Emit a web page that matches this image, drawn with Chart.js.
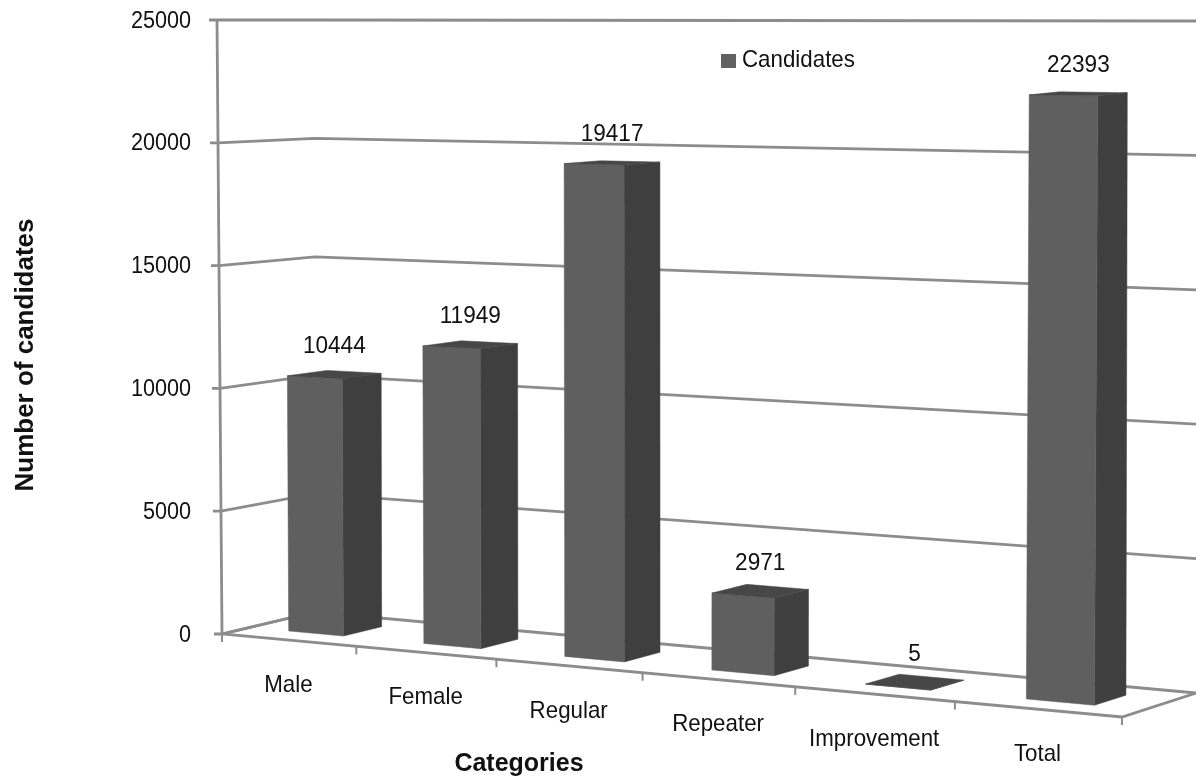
<!DOCTYPE html>
<html>
<head>
<meta charset="utf-8">
<title>Candidates</title>
<script src="https://cdn.jsdelivr.net/npm/chart.js@4/dist/chart.umd.js"></script>
<style>
  body { margin: 0; background: #fff; }
  #box { width: 1196px; height: 779px; }
</style>
</head>
<body>
<div id="box"><canvas id="chart" width="1196" height="779"></canvas></div>
<script>
const categories = ["Male", "Female", "Regular", "Repeater", "Improvement", "Total"]
const candidates = [10444, 11949, 19417, 2971, 5, 22393]
const seriesName = "Candidates"
const yMax = 25000
const yStep = 5000
const xTitle = "Categories"
const yTitle = "Number of candidates"

const FONT = '"Liberation Sans", Arial, sans-serif'
const GRID = "#8c8c8c"
const FRONT = "#5f5f5f"
const SIDE = "#3f3f3f"
const TOP = "#474747"
const TEXT = "#111"
const NARROW = 0.9
const LINE = 2.8

// corners of the 3D box on screen: [front-left, front-right, back-left, back-right]
const FLOOR = [[222, 634], [1122, 717], [315, 612], [1196, 693]]
const CEIL = [[217, 20], [1128, 27], [315, 20], [1196, 21]]
const WARP = 1.14
const BAR_FRONT = 0.3
const BAR_BACK = 0.72

function lerp(a, b, t) {
  return a + (b - a) * t
}

function corner(c, t, d) {
  return [0, 1].map((i) => lerp(lerp(c[0][i], c[1][i], t), lerp(c[2][i], c[3][i], t), d))
}

/**
 * u: 0-1 along the categories, d: 0-1 into the depth, v: 0-1 up the value axis
 */
function project(u, d, v) {
  const t = u / (u + WARP * (1 - u))
  const a = corner(FLOOR, t, d)
  const b = corner(CEIL, t, d)
  return [lerp(a[0], b[0], v), lerp(a[1], b[1], v)]
}

function stroke(ctx, points, color, width) {
  ctx.strokeStyle = color
  ctx.lineWidth = width
  ctx.beginPath()
  points.forEach((p, i) => (i ? ctx.lineTo(p[0], p[1]) : ctx.moveTo(p[0], p[1])))
  ctx.stroke()
}

function fill(ctx, points, color) {
  ctx.fillStyle = color
  ctx.strokeStyle = color
  ctx.lineWidth = 0.5
  ctx.beginPath()
  points.forEach((p, i) => (i ? ctx.lineTo(p[0], p[1]) : ctx.moveTo(p[0], p[1])))
  ctx.closePath()
  ctx.fill()
  ctx.stroke()
}

// the reference text is tall and slightly condensed, so it gets squeezed in x
function label(ctx, text, x, y, font, align = "center", squeeze = NARROW) {
  ctx.save()
  ctx.translate(x, y)
  ctx.scale(squeeze, 1)
  ctx.font = font
  ctx.fillStyle = TEXT
  ctx.textAlign = align
  ctx.textBaseline = "middle"
  ctx.fillText(text, 0, 0)
  ctx.restore()
}

function valueToV(chart, value) {
  const { chartArea, scales } = chart
  return (chartArea.bottom - scales.y.getPixelForValue(value)) / chartArea.height
}

/**
 * Walls, floor and tick marks, placed from the chart's own scales
 */
function drawBox(chart) {
  const { ctx, scales } = chart

  scales.y.ticks.forEach((tick) => {
    const v = valueToV(chart, tick.value)
    const front = project(0, 0, v)
    stroke(ctx, [[front[0] - 8, front[1]], front, project(0, 1, v), project(1, 1, v)], GRID, LINE)
  })

  stroke(ctx, [project(0, 0, 0), project(0, 0, 1)], GRID, LINE)
  stroke(ctx, [project(0, 1, 0), project(0, 0, 0), project(1, 0, 0), project(1, 1, 0)], GRID, LINE)

  for (let i = 0; i <= categories.length; i++) {
    const p = project(i / categories.length, 0, 0)
    stroke(ctx, [p, [p[0], p[1] + 8]], GRID, 2)
  }
}

/**
 * Each bar is read back from the bar element Chart.js laid out, then projected
 */
function drawBars(chart) {
  const { ctx, chartArea } = chart
  chart.getDatasetMeta(0).data.forEach((bar) => {
    const u0 = (bar.x - bar.width / 2 - chartArea.left) / chartArea.width
    const u1 = (bar.x + bar.width / 2 - chartArea.left) / chartArea.width
    const v = (chartArea.bottom - bar.y) / chartArea.height

    fill(ctx, [project(u1, BAR_FRONT, 0), project(u1, BAR_BACK, 0), project(u1, BAR_BACK, v), project(u1, BAR_FRONT, v)], SIDE)
    fill(ctx, [project(u0, BAR_FRONT, 0), project(u1, BAR_FRONT, 0), project(u1, BAR_FRONT, v), project(u0, BAR_FRONT, v)], FRONT)
    fill(ctx, [project(u0, BAR_FRONT, v), project(u1, BAR_FRONT, v), project(u1, BAR_BACK, v), project(u0, BAR_BACK, v)], TOP)
  })
}

function drawTexts(chart) {
  const { ctx, chartArea, scales } = chart
  const font = `24px ${FONT}`

  scales.y.ticks.forEach((tick) => {
    const p = project(0, 0, valueToV(chart, tick.value))
    label(ctx, String(tick.value), 191, p[1] + 1, font, "right")
  })

  chart.getDatasetMeta(0).data.forEach((bar, i) => {
    const u = (bar.x - chartArea.left) / chartArea.width
    const v = (chartArea.bottom - bar.y) / chartArea.height
    const top = project(u, (BAR_FRONT + BAR_BACK) / 2, v)
    label(ctx, String(candidates[i]), top[0], top[1] - 28, font, "center", 0.94)
    const foot = project(u, 0, 0)
    label(ctx, categories[i], foot[0], foot[1] + 45, font, "center", 0.93)
  })

  label(ctx, xTitle, 519, 764, `bold 25px ${FONT}`, "center", 1)

  ctx.save()
  ctx.translate(26, 355)
  ctx.rotate(-Math.PI / 2)
  label(ctx, yTitle, 0, 0, `bold 26px ${FONT}`, "center", 1)
  ctx.restore()

  // legend
  ctx.fillStyle = "#616161"
  ctx.fillRect(721, 54, 15, 14)
  label(ctx, seriesName, 742, 60, font, "left", 0.93)
}

const box3d = {
  id: "box3d",
  beforeDatasetsDraw: drawBox,
  afterDatasetsDraw(chart) {
    drawBars(chart)
    drawTexts(chart)
  },
}

new Chart(document.getElementById("chart"), {
  type: "bar",
  data: {
    labels: categories,
    datasets: [
      {
        label: seriesName,
        data: candidates,
        backgroundColor: "transparent",
        barPercentage: 0.41,
        categoryPercentage: 1,
      },
    ],
  },
  options: {
    responsive: false,
    animation: false,
    layout: { padding: { top: 20, right: 74, bottom: 145, left: 0 } },
    plugins: {
      legend: { display: false },
      tooltip: { enabled: false },
    },
    scales: {
      x: {
        ticks: { display: false },
        grid: { display: false },
        border: { display: false },
      },
      y: {
        min: 0,
        max: yMax,
        afterFit: (scale) => {
          scale.width = 217
        },
        ticks: { stepSize: yStep, display: false },
        grid: { display: false, drawTicks: false },
        border: { display: false },
      },
    },
  },
  plugins: [box3d],
})
</script>
</body>
</html>
